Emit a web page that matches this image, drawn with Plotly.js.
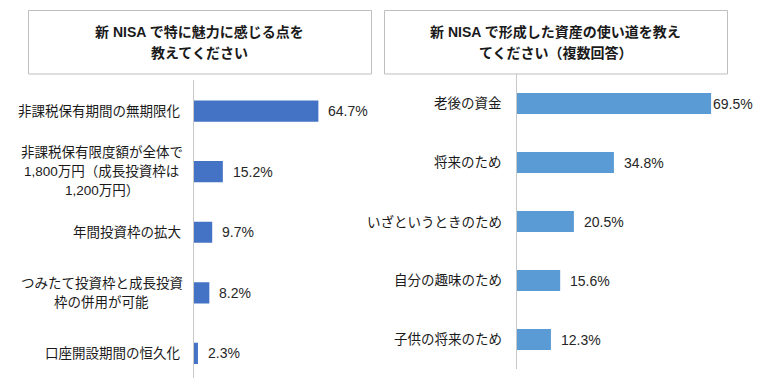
<!DOCTYPE html>
<html>
<head>
<meta charset="utf-8">
<script src="https://cdn.plot.ly/plotly-3.0.1.min.js"></script>
<style>html,body{margin:0;padding:0;background:#fff;}#chart{width:769px;height:378px;}</style>
</head>
<body>
<div id="chart"></div>
<script>
// ---- Data ----
const leftTitleLines = ['新 NISA で特に魅力に感じる点を', '教えてください'];
const leftCategories = [
  '非課税保有期間の無期限化',
  '非課税保有限度額が全体で<br>1,800万円（成長投資枠は<br>1,200万円）',
  '年間投資枠の拡大',
  'つみたて投資枠と成長投資<br>枠の併用が可能',
  '口座開設期間の恒久化'
];
const leftValues = [64.7, 15.2, 9.7, 8.2, 2.3];

const rightTitleLines = ['新 NISA で形成した資産の使い道を教え', 'てください（複数回答）'];
const rightCategories = ['老後の資金', '将来のため', 'いざというときのため', '自分の趣味のため', '子供の将来のため'];
const rightValues = [69.5, 34.8, 20.5, 15.6, 12.3];

// ---- Layout helpers (pixels -> paper) ----
const W = 769, H = 378;
const px = x => x / W;
const py = y => 1 - y / H;
const FONT = 'Liberation Sans, Arial, "Noto Sans CJK JP", sans-serif';
const TXT = '#1a1a1a';
const leftIdx = leftCategories.map((_, i) => i);
const rightIdx = rightCategories.map((_, i) => i);

const traces = [
  {type: 'bar', orientation: 'h', x: leftValues, y: leftIdx, xaxis: 'x', yaxis: 'y',
   marker: {color: '#4472C4'}, hoverinfo: 'skip', width: 0.35},
  {type: 'bar', orientation: 'h', x: rightValues, y: rightIdx, xaxis: 'x2', yaxis: 'y2',
   marker: {color: '#5B9BD5'}, hoverinfo: 'skip', width: 0.355}
];

const annotations = [];
// titles
leftTitleLines.forEach((t, i) => annotations.push({xref: 'paper', yref: 'paper', x: px(199.5), y: py(i === 0 ? 32 : 53),
  text: '<b>' + t + '</b>', showarrow: false, xanchor: 'center', yanchor: 'middle', font: {family: FONT, size: 14, color: TXT}}));
rightTitleLines.forEach((t, i) => annotations.push({xref: 'paper', yref: 'paper', x: px(555.5), y: py(i === 0 ? 32 : 53),
  text: '<b>' + t + '</b>', showarrow: false, xanchor: 'center', yanchor: 'middle', font: {family: FONT, size: 14, color: TXT}}));

// category labels: each line placed separately, centred within the block, block right-aligned at axis
const LINE_H = 19;
function addCatLabels(cats, yref, rightPx) {
  cats.forEach((c, i) => {
    const lines = c.split('<br>');
    // approximate block width to centre lines within it: measure via canvas
    const ctx = document.createElement('canvas').getContext('2d');
    ctx.font = '13.5px ' + FONT;
    const widths = lines.map(l => ctx.measureText(l).width);
    const bw = Math.max(...widths);
    const cx = rightPx - bw / 2;
    lines.forEach((l, j) => annotations.push({xref: 'paper', yref: yref, x: px(lines.length > 1 ? cx : rightPx), y: i,
      yshift: -(j - (lines.length - 1) / 2) * LINE_H,
      text: l, showarrow: false, xanchor: lines.length > 1 ? 'center' : 'right', yanchor: 'middle',
      font: {family: FONT, size: 13.5, color: TXT}}));
  });
}
addCatLabels(leftCategories, 'y', 182.5);
addCatLabels(rightCategories, 'y2', 503.5);

// value labels
const leftGap = [8, 8, 8, 8, 8];
const rightGap = [0, 8, 8, 8, 8];
const VF = {family: FONT, size: 14, color: '#262626'};
leftValues.forEach((v, i) => annotations.push({xref: 'x', yref: 'y', x: v, y: i, xshift: leftGap[i],
  text: v.toFixed(1) + '%', showarrow: false, xanchor: 'left', yanchor: 'middle', font: VF}));
rightValues.forEach((v, i) => annotations.push({xref: 'x2', yref: 'y2', x: v, y: i, xshift: rightGap[i],
  text: v.toFixed(1) + '%', showarrow: false, xanchor: 'left', yanchor: 'middle', font: VF}));

const shapes = [
  {type: 'rect', xref: 'paper', yref: 'paper', x0: px(28.5), x1: px(371.5), y0: py(74), y1: py(10.5),
   line: {color: '#bfbfbf', width: 1}, fillcolor: 'rgba(0,0,0,0)'},
  {type: 'rect', xref: 'paper', yref: 'paper', x0: px(384.5), x1: px(727.5), y0: py(74), y1: py(10.5),
   line: {color: '#bfbfbf', width: 1}, fillcolor: 'rgba(0,0,0,0)'}
];

const layout = {
  width: W, height: H,
  margin: {l: 0, r: 0, t: 0, b: 0},
  paper_bgcolor: '#fff', plot_bgcolor: 'rgba(0,0,0,0)',
  showlegend: false,
  xaxis: {domain: [px(193.5), px(372)], range: [0, 178.5 / 1.93], visible: false, fixedrange: true},
  yaxis: {domain: [0, py(80)], range: [4.405, -0.512], showline: true, linecolor: '#c8c8c8', linewidth: 1,
          showticklabels: false, showgrid: false, zeroline: false, ticks: '', fixedrange: true},
  xaxis2: {domain: [px(516.5), px(740)], range: [0, 223.5 / 2.8], visible: false, fixedrange: true, anchor: 'y2'},
  yaxis2: {domain: [py(369), py(74)], range: [4.5, -0.5], showline: true, linecolor: '#c8c8c8', linewidth: 1,
           showticklabels: false, showgrid: false, zeroline: false, ticks: '', fixedrange: true, anchor: 'x2'},
  annotations: annotations,
  shapes: shapes
};

Plotly.newPlot('chart', traces, layout, {displayModeBar: false, staticPlot: true});
</script>
</body>
</html>
